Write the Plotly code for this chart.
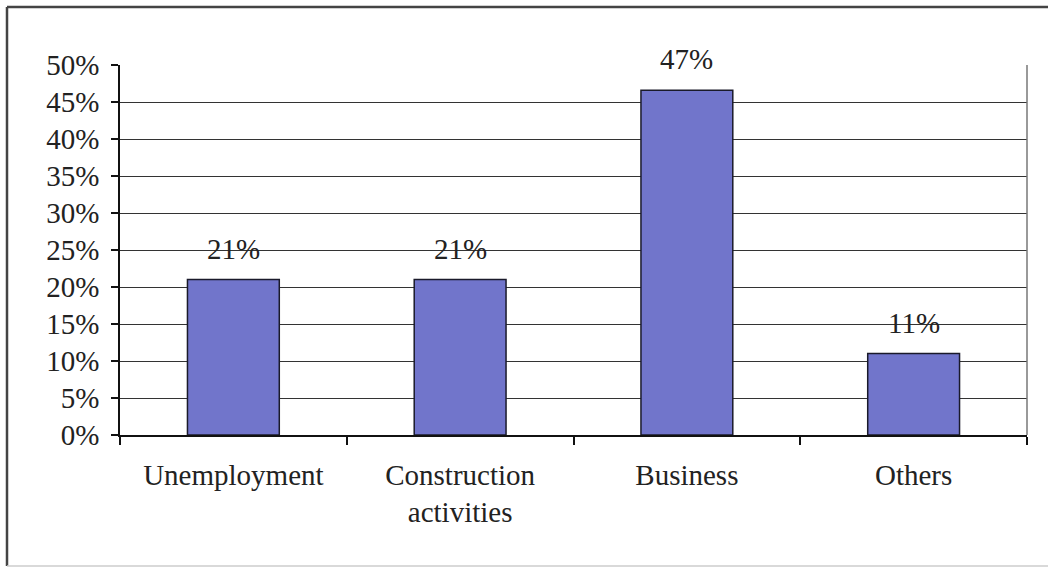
import plotly.graph_objects as go

categories = ["Unemployment", "Construction<br>activities", "Business", "Others"]
values = [0.21, 0.21, 0.466, 0.11]
y_ticks = [0, 0.05, 0.10, 0.15, 0.20, 0.25, 0.30, 0.35, 0.40, 0.45, 0.50]

FONT = "Liberation Serif, Times New Roman, serif"
TXT = "#222222"

fig = go.Figure()
fig.add_trace(go.Bar(
    x=categories, y=values,
    marker=dict(color="#7175cb", line=dict(color="#1a1a2a", width=1.5)),
    width=0.405,
    hoverinfo="skip",
))

for c, v in zip(categories, values):
    fig.add_annotation(x=c, y=v, text=f"{v:.0%}", showarrow=False,
                       yanchor="middle", yshift=31,
                       font=dict(family=FONT, size=29, color=TXT))

L, R, T, B = 120, 1027, 65, 435
W, H = 1048, 567
pw, ph = R - L, B - T
def px(x): return (x - L) / pw
def py(y): return (B - y) / ph

# outer frame
fig.add_shape(type="line", xref="paper", yref="paper", x0=px(7), x1=px(7), y0=py(7), y1=py(566),
              line=dict(color="#444444", width=2.5))
fig.add_shape(type="line", xref="paper", yref="paper", x0=px(7), x1=px(1048), y0=py(7), y1=py(7),
              line=dict(color="#444444", width=2.5))
fig.add_shape(type="line", xref="paper", yref="paper", x0=px(7), x1=px(1048), y0=py(566), y1=py(566),
              line=dict(color="#cccccc", width=1.5))
# right plot border
fig.add_shape(type="line", xref="paper", yref="paper", x0=1, x1=1, y0=0, y1=1,
              line=dict(color="#777777", width=1.5))

fig.update_layout(
    width=W, height=H,
    margin=dict(l=L, r=W - R, t=T, b=H - B),
    paper_bgcolor="white", plot_bgcolor="white",
    showlegend=False,
    font=dict(family=FONT, size=29, color=TXT),
    bargap=0.595,
    xaxis=dict(showline=True, linecolor="#111111", linewidth=1.5,
               ticks="outside", ticklen=8, tickcolor="#111111", tickwidth=1.5,
               tickson="boundaries", showgrid=False,
               tickfont=dict(family=FONT, size=29, color=TXT), ticklabelstandoff=13),
    yaxis=dict(range=[0, 0.5], tickvals=y_ticks, tickformat=".0%",
               showline=True, linecolor="#111111", linewidth=1.5,
               ticks="outside", ticklen=7, tickcolor="#111111", tickwidth=1.5,
               showgrid=True, gridcolor="#333333", gridwidth=1.2,
               zeroline=False,
               tickfont=dict(family=FONT, size=29, color=TXT), ticklabelstandoff=6),
)

fig.write_html("out.html")
